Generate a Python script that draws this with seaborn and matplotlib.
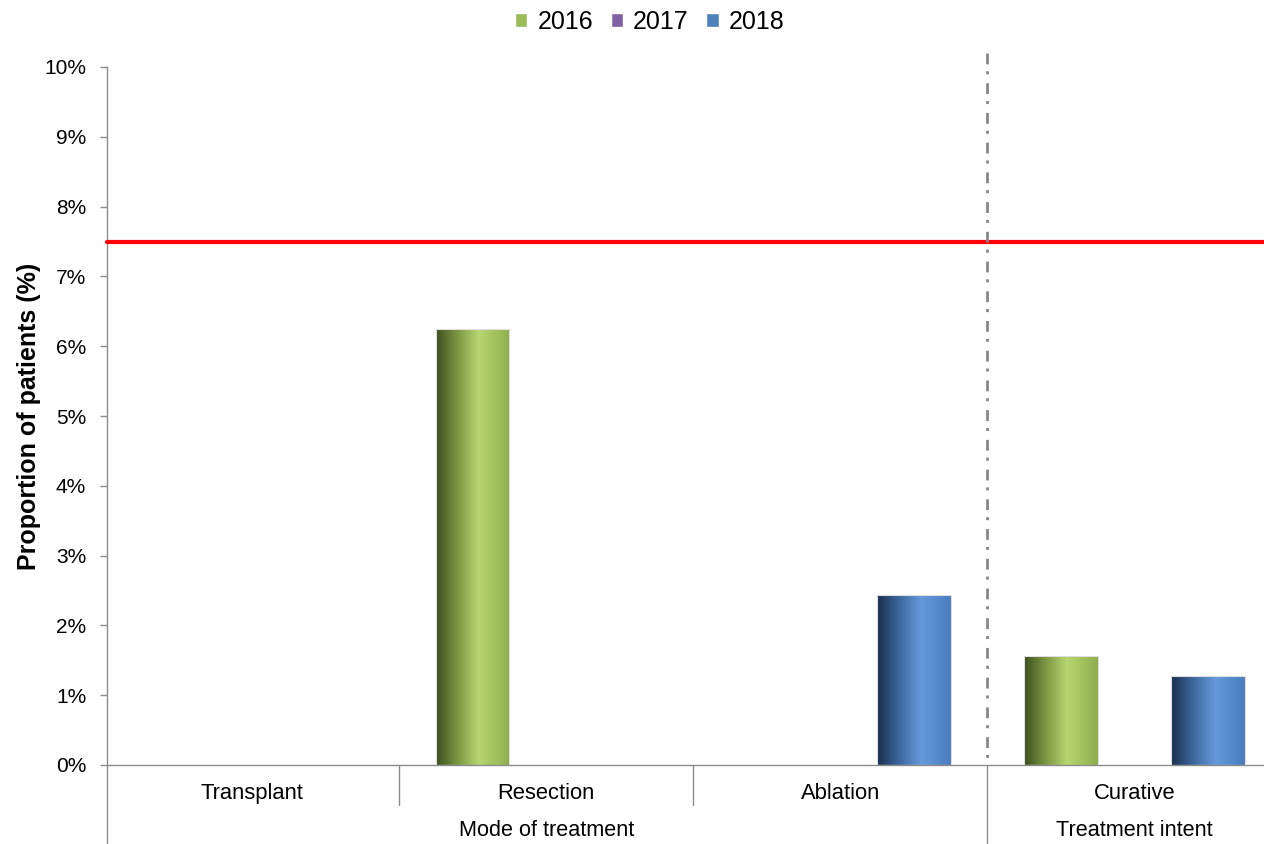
import numpy as np
import pandas as pd
import matplotlib
matplotlib.use("Agg")
import matplotlib.pyplot as plt
import matplotlib.transforms as mtransforms
from matplotlib.colors import LinearSegmentedColormap
import seaborn as sns

# ---- data -------------------------------------------------------------
categories = ["Transplant", "Resection", "Ablation", "Curative"]
years = ["2016", "2017", "2018"]
values_2016 = [0.0, 6.25, 0.0, 1.56]
values_2017 = [0.0, 0.0, 0.0, 0.0]
values_2018 = [0.0, 0.0, 2.44, 1.28]
target_level = 7.5
group_names = ["Mode of treatment", "Treatment intent"]
ytick_values = [0, 1, 2, 3, 4, 5, 6, 7, 8, 9, 10]
ytick_labels = ["0%", "1%", "2%", "3%", "4%", "5%", "6%", "7%", "8%", "9%", "10%"]

series = {"2016": values_2016, "2017": values_2017, "2018": values_2018}
df = pd.DataFrame(
    [(cat, yr, val) for yr in years for cat, val in zip(categories, series[yr])],
    columns=["category", "year", "value"],
)

# ---- style ------------------------------------------------------------
sns.set_theme(style="white")
plt.rcParams["font.family"] = ["Liberation Sans", "DejaVu Sans"]
plt.rcParams["text.color"] = "black"
plt.rcParams["axes.labelcolor"] = "black"
plt.rcParams["xtick.color"] = "black"
plt.rcParams["ytick.color"] = "black"

palette = {"2016": "#9bbb59", "2017": "#8064a2", "2018": "#4f81bd"}
shades = {
    "2016": LinearSegmentedColormap.from_list(
        "g", [(0.0, "#3d4f1e"), (0.3, "#7d9944"), (0.58, "#b7d670"),
              (0.85, "#9dbd5a"), (1.0, "#8eac4c")]),
    "2017": LinearSegmentedColormap.from_list(
        "p", [(0.0, "#3f2f55"), (0.58, "#a08cc4"), (1.0, "#7a609c")]),
    "2018": LinearSegmentedColormap.from_list(
        "b", [(0.0, "#1a2f4e"), (0.3, "#3c679c"), (0.6, "#6699db"),
              (0.85, "#5388cb"), (1.0, "#4a7bbc")]),
}
grey = "#8c8c8c"

W, H = 1264, 844
fig = plt.figure(figsize=(W / 100, H / 100), dpi=100)
ax = fig.add_axes([107 / W, (H - 765) / H, 1 - 107 / W, (765 - 67) / H])

sns.barplot(data=df, x="category", y="value", hue="year", order=categories,
            hue_order=years, palette=palette, width=0.75, errorbar=None,
            saturation=1, ax=ax)

xlim = (-0.493, 3.44)
ylim = (0, 10)

# cylinder-like horizontal shading on every bar
grad = np.linspace(0, 1, 256).reshape(1, -1)
for yr, cont in zip(years, ax.containers):
    for bar in cont:
        h = bar.get_height()
        if h <= 0:
            bar.set_visible(False)
            continue
        x0 = bar.get_x()
        x1 = x0 + bar.get_width()
        im = ax.imshow(grad, extent=[x0, x1, 0, h], cmap=shades[yr],
                       aspect="auto", interpolation="bilinear", zorder=2.5)
        im.set_clip_path(bar)
        bar.set_facecolor("none")
        bar.set_edgecolor("#dedede")
        bar.set_linewidth(0.8)
        bar.set_zorder(3)

ax.set_xlim(*xlim)
ax.set_ylim(*ylim)

# target line
ax.axhline(target_level, color="#ff0000", lw=3.0, zorder=4, clip_on=False)

# separator between the two groups
ax.plot([2.5, 2.5], [10.2, 0], color="#878787", lw=2.0,
        linestyle=(0, (3.9, 2.5, 1.1, 3.2)), zorder=5, clip_on=False)

# axes cosmetics
sns.despine(ax=ax, top=True, right=True)
for s in ("left", "bottom"):
    ax.spines[s].set_color(grey)
    ax.spines[s].set_linewidth(1.0)

ax.set_yticks(ytick_values)
ax.set_yticklabels(ytick_labels, fontsize=15)
ax.tick_params(axis="y", direction="out", length=5, width=1, color=grey,
               labelcolor="black", pad=10, left=True)
ax.set_xticks(range(len(categories)))
ax.set_xticklabels(categories, fontsize=15.8)
ax.tick_params(axis="x", length=0, pad=13, labelcolor="black")
ax.set_xlabel("")
ax.set_ylabel("Proportion of patients (%)", fontsize=18, fontweight="bold",
              labelpad=2.5, color="black")

# category and group dividers below the axis
blend = mtransforms.blended_transform_factory(ax.transData, ax.transAxes)
short = 40 / 698
long_ = 80 / 698
ax.plot([0, 0], [0, -long_], color=grey, lw=1.0, transform=ax.transAxes,
        clip_on=False)
for xd, depth in [(0.5, short), (1.5, short), (2.5, long_)]:
    ax.plot([xd, xd], [0, -depth], color=grey, lw=1.0, transform=blend,
            clip_on=False)

ax.text(1.0, -65 / 698, group_names[0], transform=blend, ha="center",
        va="center", fontsize=15.6, color="black")
ax.text(3.0, -65 / 698, group_names[1], transform=blend, ha="center",
        va="center", fontsize=15.6, color="black")

# legend across the top
sns.move_legend(ax, "center", bbox_to_anchor=(0.514, 1 - 22 / H),
                bbox_transform=fig.transFigure, ncol=3, frameon=False,
                title=None, fontsize=18, handlelength=0.5, handleheight=0.5,
                handletextpad=0.4, columnspacing=0.7, borderpad=0)
for t in ax.get_legend().get_texts():
    t.set_color("black")

fig.savefig("out.png", dpi=100)
